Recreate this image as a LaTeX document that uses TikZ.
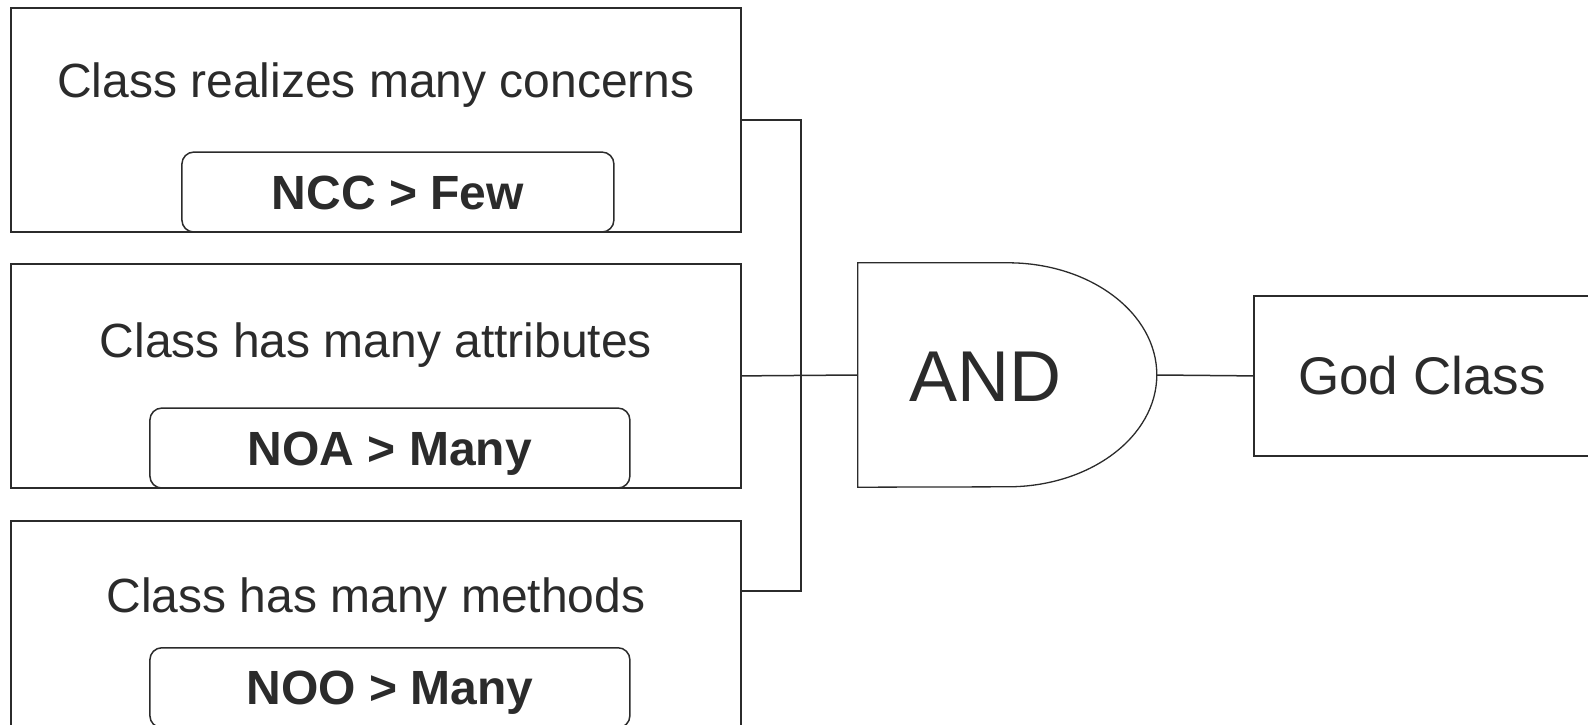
\documentclass[tikz,border=0pt]{standalone}
\usepackage{fontspec}
\setmainfont{Liberation Sans}
\definecolor{GateGray}{RGB}{43, 43, 43}
\usetikzlibrary{positioning, calc}

\begin{document}
\begin{tikzpicture}[x=1pt, y=-1pt, color=GateGray,
		condbox/.style={draw, line width=1.8pt, anchor=north west, minimum width=730pt, minimum height=224pt, inner sep=0pt},
		condtitle/.style={font=\fontsize{48}{58}\selectfont},
		metricbox/.style={draw, line width=1.5pt, rounded corners=12pt, anchor=south, minimum height=80pt, inner sep=0pt,
			text height=34pt, text depth=0pt, font=\fontsize{48}{58}\selectfont\bfseries},
		wire/.style={line width=1.5pt},
		gatebox/.style={minimum width=299pt, minimum height=224pt, inner sep=0pt}]
			\useasboundingbox (0,0) rectangle (1588,725);
			\clip (0,0) rectangle (1588,725);
			\node[condbox] (c1) at (10,7) {};
			\node[condbox] (c2) at (10,263) {};
			\node[condbox] (c3) at (10,520) {};
			\node[condtitle] (t1) at ($(c1.north)+(0,78)$) {Class realizes many concerns};
			\node[condtitle] (t2) at ($(c2.north)+(0,82)$) {Class has many attributes};
			\node[condtitle] (t3) at ($(c3.north)+(0,80)$) {Class has many methods};
			\node[metricbox, minimum width=432pt] (ncc) at ($(c1.south)+(22,0)$) {NCC > Few};
			\node[metricbox, minimum width=480pt] (noa) at ($(c2.south)+(14,0)$) {NOA > Many};
			\node[metricbox, minimum width=480pt, anchor=north] (noo) at ($(c3.north)+(14,127)$) {NOO > Many};
			\node[gatebox] (gate) at (1007.5,375) {};
			\draw[line width=1.3pt] (gate.north west) -- ++(150,0)
				arc[start angle=90, end angle=-90, x radius=149pt, y radius=112pt]
				-- (gate.south west) -- cycle;
			\node[font=\fontsize{72}{86}\selectfont] (andlbl) at ($(gate.west)+(128,2)$) {AND};
			\node[draw, line width=1.8pt, anchor=north west, minimum width=336pt, minimum height=160pt,
				font=\fontsize{53}{64}\selectfont] (god) at (1253,295) {God Class};
			\coordinate (j1) at ($(c1.east)+(59,0)$);
			\coordinate (c3in) at ($(c3.north east)+(0,71)$);
			\draw[wire] (c1.east) -- (j1) |- (c3in);
			\draw[wire] (c2.east) -- (gate.west);
			\draw[wire] (gate.east) -- (god.west);
		\end{tikzpicture}
\end{document}
